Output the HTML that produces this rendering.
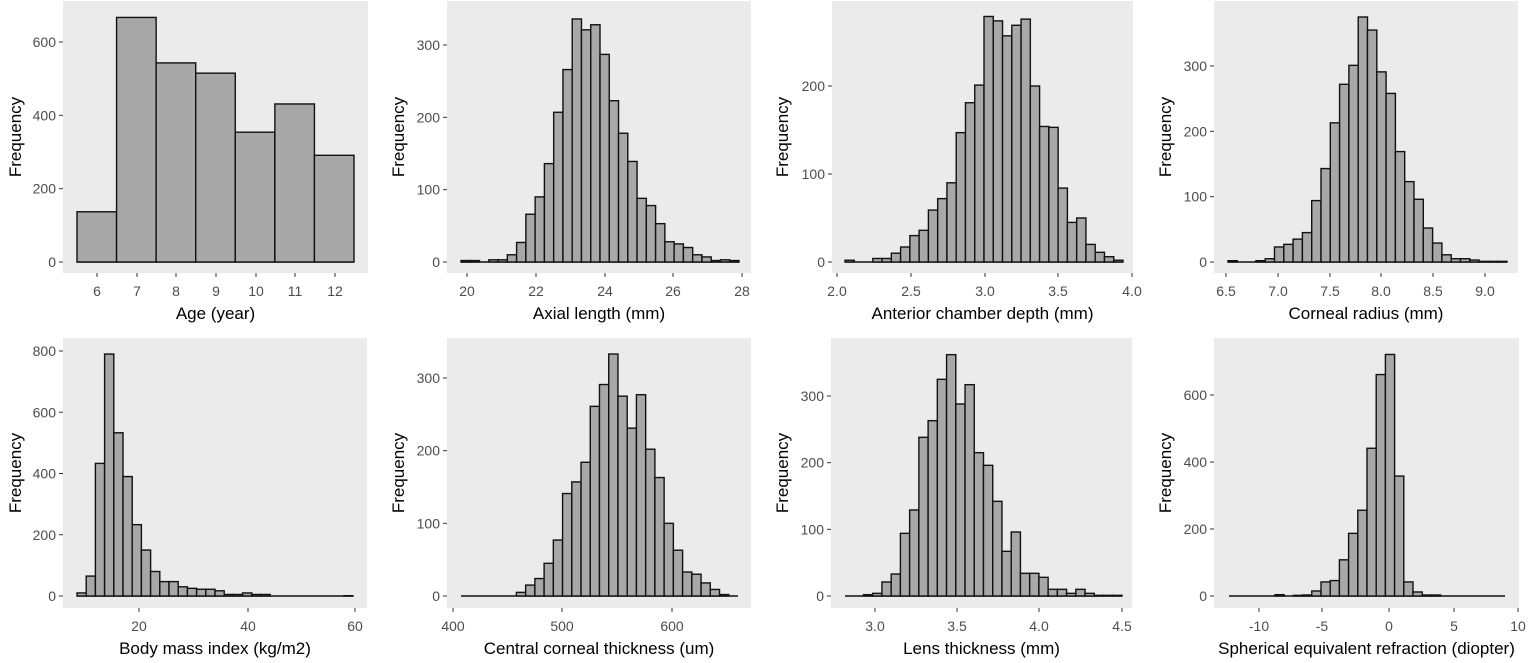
<!DOCTYPE html>
<html><head><meta charset="utf-8"><style>body{margin:0;background:#fff}svg{display:block}</style></head>
<body><svg id="s" width="1535" height="663" xmlns="http://www.w3.org/2000/svg" font-family="Liberation Sans, Arial, sans-serif"></svg>
<script>
const P=[
{bx:[63,368],by:[1,273],y0:262,ppu:220/600,x:[77,354],c:[137,667,543,515,354,431,291],yt:[0,200,400,600],xt:[[97,"6"],[137,"7"],[176,"8"],[216,"9"],[256,"10"],[295,"11"],[335,"12"]],t:"Age (year)",fx:15},
{bx:[447,751],by:[1,273],y0:262,ppu:217/300,x:[461,739],c:[2,2,0,3,3,10,27,66,90,136,207,266,336,321,328,287,223,178,139,88,78,53,28,25,20,10,7,2,3,2],yt:[0,100,200,300],xt:[[467,"20"],[536,"22"],[605,"24"],[673,"26"],[742,"28"]],t:"Axial length (mm)",fx:398},
{bx:[832,1133],by:[1,273],y0:262,ppu:176/200,x:[845,1123],c:[2,0,0,4,4,10,17,30,36,59,72,90,147,181,201,279,274,257,269,276,200,154,153,84,45,50,20,11,6,2],yt:[0,100,200],xt:[[837,"2.0"],[911,"2.5"],[985,"3.0"],[1058,"3.5"],[1132,"4.0"]],t:"Anterior chamber depth (mm)",fx:782},
{bx:[1214,1518],by:[1,273],y0:262,ppu:196/300,x:[1228,1507],c:[2,0,0,2,5,23,27,35,45,94,143,213,272,301,375,355,291,258,169,123,96,52,29,11,5,5,3,1,1,1],yt:[0,100,200,300],xt:[[1226,"6.5"],[1278,"7.0"],[1330,"7.5"],[1381,"8.0"],[1433,"8.5"],[1485,"9.0"]],t:"Corneal radius (mm)",fx:1165},
{bx:[63,367],by:[338,608],y0:596,ppu:245/800,x:[77,353],c:[10,65,433,790,533,390,233,150,80,47,47,30,25,22,22,17,5,5,10,5,5,0,0,0,0,0,0,0,0,1],yt:[0,200,400,600,800],xt:[[139,"20"],[248,"40"],[355,"60"]],t:"Body mass index (kg/m2)",fx:15},
{bx:[447,751],by:[338,608],y0:596,ppu:218/300,x:[461,738],c:[0,0,0,0,0,0,5,15,24,45,77,141,157,184,261,291,333,275,231,277,202,163,100,63,33,30,18,9,2,0],yt:[0,100,200,300],xt:[[453,"400"],[562,"500"],[672,"600"]],t:"Central corneal thickness (um)",fx:398},
{bx:[831,1132],by:[338,608],y0:596,ppu:200/300,x:[845,1122],c:[0,0,2,4,21,33,94,129,238,263,325,362,288,317,215,196,142,67,96,34,34,28,10,10,4,10,4,1,1,1],yt:[0,100,200,300],xt:[[875,"3.0"],[957,"3.5"],[1039,"4.0"],[1122,"4.5"]],t:"Lens thickness (mm)",fx:782},
{bx:[1214,1519],by:[338,608],y0:596,ppu:201/600,x:[1229,1505],c:[0,0,0,0,0,4,0,2,3,15,42,46,108,187,256,441,661,721,358,42,12,3,3,0,0,0,0,0,0,0],yt:[0,200,400,600],xt:[[1259,"-10"],[1322,"-5"],[1389,"0"],[1454,"5"],[1518,"10"]],t:"Spherical equivalent refraction (diopter)",fx:1165}
];
let h="";
for(const p of P){
 h+=`<rect x="${p.bx[0]}" y="${p.by[0]}" width="${p.bx[1]-p.bx[0]}" height="${p.by[1]-p.by[0]}" fill="#ebebeb"/>`;
 const n=p.c.length,w=(p.x[1]-p.x[0])/n;
 h+=`<line x1="${p.x[0]}" x2="${p.x[1]}" y1="${p.y0}" y2="${p.y0}" stroke="#111" stroke-width="1.6"/>`;
 p.c.forEach((v,i)=>{if(!v)return;const hh=v*p.ppu;h+=`<rect x="${(p.x[0]+i*w).toFixed(2)}" y="${(p.y0-hh).toFixed(2)}" width="${w.toFixed(2)}" height="${hh.toFixed(2)}" fill="#a8a8a8" stroke="#111" stroke-width="1.4"/>`;});
 for(const v of p.yt){const y=p.y0-v*p.ppu;h+=`<line x1="${p.bx[0]-4}" x2="${p.bx[0]}" y1="${y}" y2="${y}" stroke="#333" stroke-width="1"/><text x="${p.bx[0]-7}" y="${y+5}" font-size="14" fill="#4d4d4d" text-anchor="end">${v}</text>`;}
 for(const [x,l] of p.xt){h+=`<line x1="${x}" x2="${x}" y1="${p.by[1]}" y2="${p.by[1]+4}" stroke="#333" stroke-width="1"/><text x="${x}" y="${p.by[1]+23}" font-size="14" fill="#4d4d4d" text-anchor="middle">${l}</text>`;}
 const cx=(p.bx[0]+p.bx[1])/2;
 h+=`<text x="${cx}" y="${p.by[1]+46}" font-size="17" fill="#000" text-anchor="middle">${p.t}</text>`;
 const cy=(p.by[0]+p.by[1])/2;
 h+=`<text transform="translate(${p.fx+6},${cy}) rotate(-90)" font-size="17" fill="#000" text-anchor="middle">Frequency</text>`;
}
document.getElementById("s").innerHTML=h;
</script></body></html>
